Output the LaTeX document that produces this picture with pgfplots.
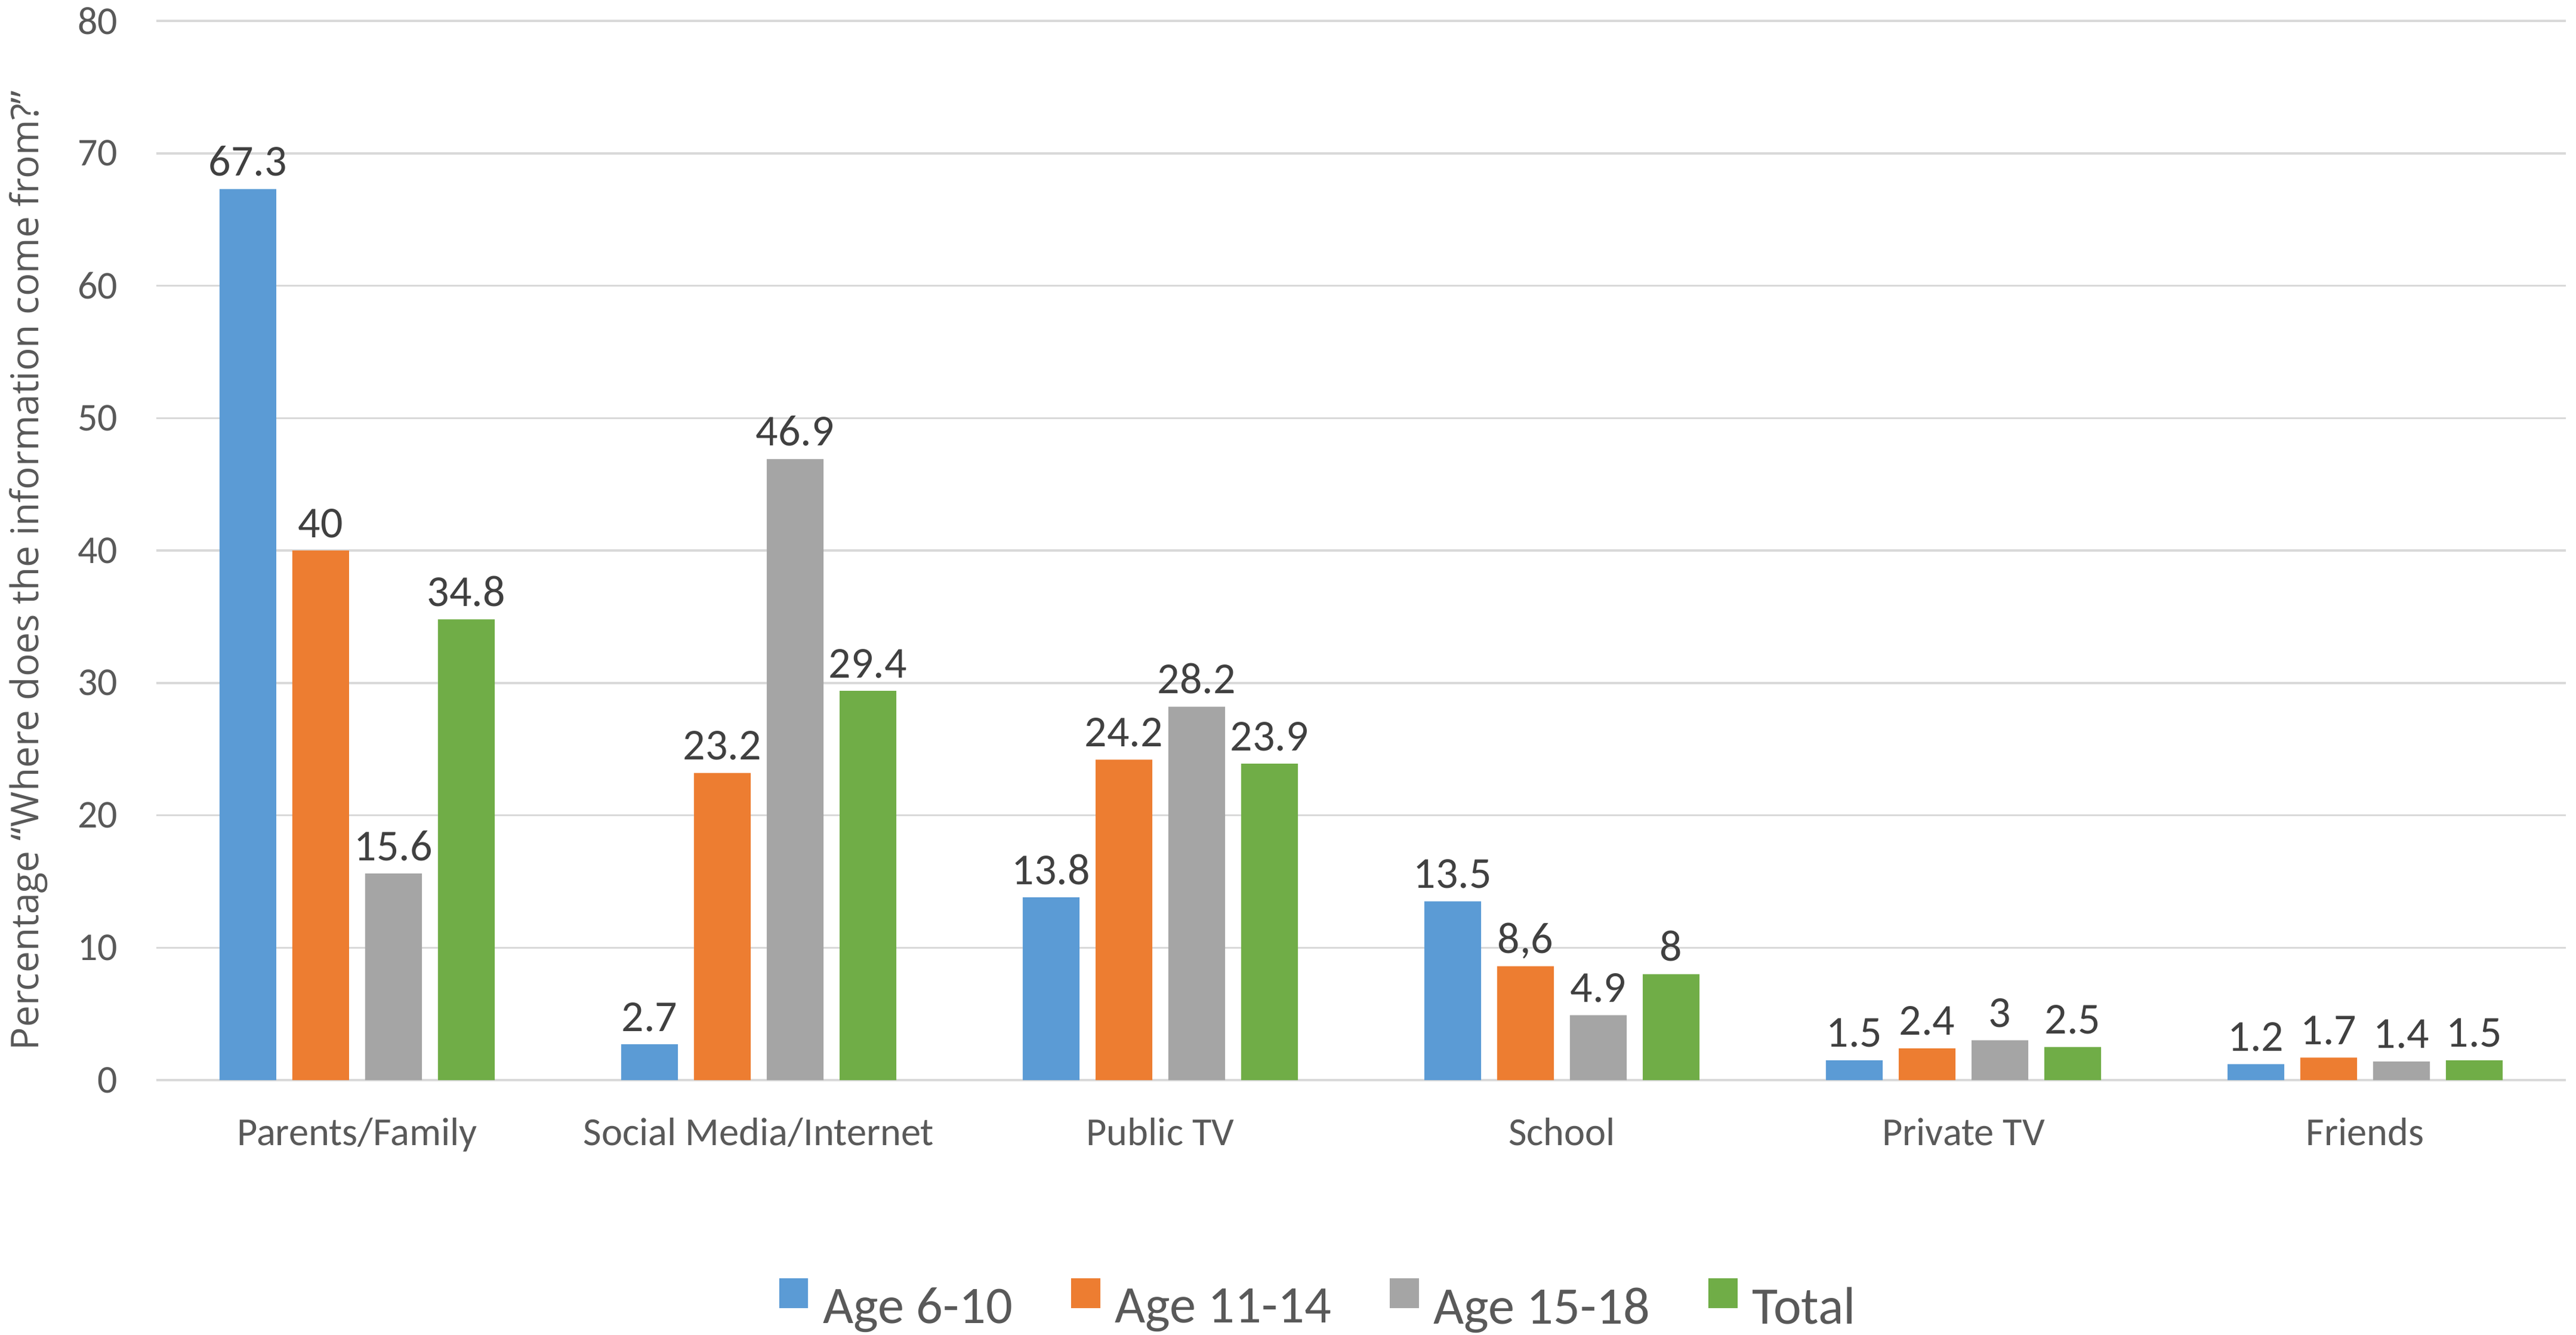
\documentclass[border=0pt]{standalone}
\usepackage{fontspec}
\setmainfont{Carlito}
\newfontfamily\opensans{Open Sans}
\usepackage{pgfplots}
\pgfplotsset{compat=1.18}
\definecolor{cblue}{HTML}{5B9BD5}
\definecolor{corange}{HTML}{ED7D31}
\definecolor{cgray}{HTML}{A5A5A5}
\definecolor{cgreen}{HTML}{70AD47}
\definecolor{ctext}{HTML}{595959}
\definecolor{clabel}{HTML}{404040}
\definecolor{cgrid}{HTML}{D9D9D9}
\pgfplotsset{/pgfplots/ybar legend/.style={/pgfplots/legend image code/.code={\draw[##1,draw=none] (0pt,0pt) rectangle (9.7pt,10pt);}}}
\begin{document}
\begin{tikzpicture}
\useasboundingbox (-52.4pt,-85.2pt) rectangle (811pt,361.8pt);
\begin{axis}[
  at={(0pt,0pt)}, anchor=south west,
  scale only axis, width=807.6pt, height=354.8pt,
  ybar, bar width=19pt,
  xmin=-0.5, xmax=5.5, ymin=0, ymax=80,
  enlargelimits=false,
  xtick={0,1,2,3,4,5},
  xticklabels={Parents/Family,Social Media/Internet,Public TV,School,Private TV,Friends},
  ytick={0,10,20,30,40,50,60,70,80},
  /pgf/number format/assume math mode=true,
  xticklabel style={anchor=base, yshift=-21.8pt, font=\fontsize{13.3}{16}\selectfont, text=ctext},
  yticklabel style={anchor=east, inner sep=0pt, xshift=-12.8pt, font=\fontsize{13.2}{16}\selectfont, text=ctext},
  major tick length=0pt,
  axis line style={draw=none},
  ymajorgrids, grid style={draw=cgrid, line width=0.7pt},
  ylabel={Percentage “Where does the information come from?”},
  ylabel style={at={(axis description cs:-0.04879,0.01804)}, anchor=base west, font=\opensans\fontsize{12.8}{15}\selectfont, text=ctext},
  point meta=explicit symbolic,
  nodes near coords={\pgfplotspointmeta},
  every node near coord/.append style={anchor=base, inner sep=0pt, yshift=4.4pt, font=\fontsize{14.8}{17}\selectfont, text=clabel},
  legend style={at={(axis description cs:0.4819,-0.2108)}, anchor=center, draw=none, fill=none,
    font=\fontsize{17.7}{21}\selectfont, text=ctext, legend columns=4,
    /tikz/every odd column/.append style={column sep=5pt},
    /tikz/every even column/.append style={column sep=19.6pt},
    nodes={inner sep=0pt}, inner sep=0pt},
  legend cell align=left,
]
\addplot[fill=cblue, draw=none, bar shift=-36.6pt] coordinates {(0,67.3) [67.3] (1,2.7) [2.7] (2,13.8) [13.8] (3,13.5) [13.5] (4,1.5) [1.5] (5,1.2) [1.2]};
\addplot[fill=corange, draw=none, bar shift=-12.2pt] coordinates {(0,40) [40] (1,23.2) [23.2] (2,24.2) [24.2] (3,8.6) [{8,6}] (4,2.4) [2.4] (5,1.7) [1.7]};
\addplot[fill=cgray, draw=none, bar shift=12.2pt] coordinates {(0,15.6) [15.6] (1,46.9) [46.9] (2,28.2) [28.2] (3,4.9) [4.9] (4,3) [3] (5,1.4) [1.4]};
\addplot[fill=cgreen, draw=none, bar shift=36.6pt] coordinates {(0,34.8) [34.8] (1,29.4) [29.4] (2,23.9) [23.9] (3,8) [8] (4,2.5) [2.5] (5,1.5) [1.5]};
\legend{Age 6-10,Age 11-14,Age 15-18,Total}
\end{axis}
\end{tikzpicture}
\end{document}
